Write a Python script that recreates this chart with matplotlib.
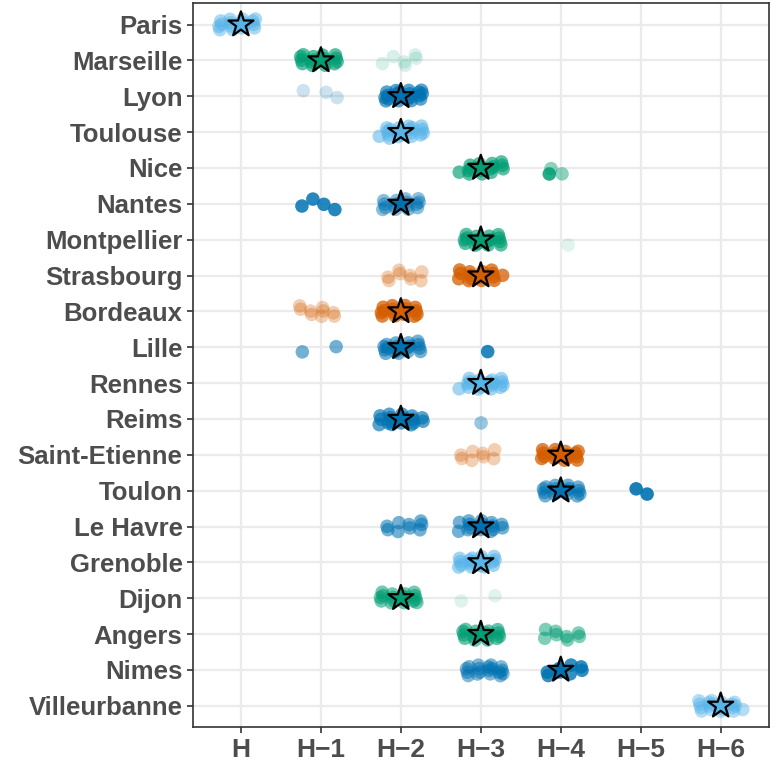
import numpy as np
import matplotlib
matplotlib.use("Agg")
import matplotlib.pyplot as plt

# categories
cities = ["Paris", "Marseille", "Lyon", "Toulouse", "Nice", "Nantes", "Montpellier",
          "Strasbourg", "Bordeaux", "Lille", "Rennes", "Reims", "Saint-Etienne",
          "Toulon", "Le Havre", "Grenoble", "Dijon", "Angers", "Nimes", "Villeurbanne"]
levels = ["H", "H\u22121", "H\u22122", "H\u22123", "H\u22124", "H\u22125", "H\u22126"]

LB, GR, DB, OR = "#56B4E9", "#009E73", "#0072B2", "#D55E00"
city_color = [LB, GR, DB, LB, GR, DB, GR, OR, OR, DB, LB, DB, OR, DB, DB, LB, GR, GR, DB, LB]

# most frequent level per city (star)
mode_level = [0, 1, 2, 2, 3, 2, 3, 3, 2, 2, 3, 2, 4, 4, 3, 3, 2, 3, 4, 6]

# point groups: city index, level index, number of points, opacity
grp_city  = [0, 1, 1, 2, 2, 3, 4, 4, 4, 5, 5, 6, 6, 7, 7, 8, 8, 9, 9, 9, 10, 11, 11,
             12, 12, 13, 13, 14, 14, 15, 16, 16, 17, 17, 18, 18, 19]
grp_level = [0, 1, 2, 1, 2, 2, 3, 4, 4, 1, 2, 3, 4, 2, 3, 1, 2, 1, 2, 3, 3, 2, 3,
             3, 4, 4, 5, 2, 3, 3, 2, 3, 3, 4, 3, 4, 6]
grp_n     = [16, 16, 6, 3, 20, 20, 16, 1, 2, 4, 16, 16, 1, 8, 16, 9, 16, 2, 18, 1, 18, 18, 1,
             8, 16, 16, 2, 9, 16, 18, 18, 2, 16, 8, 18, 8, 20]
grp_alpha = [0.5, 0.65, 0.15, 0.2, 0.65, 0.55, 0.65, 0.85, 0.45, 0.85, 0.45, 0.65, 0.12, 0.3,
             0.75, 0.3, 0.75, 0.55, 0.55, 0.85, 0.55, 0.65, 0.4, 0.3, 0.75, 0.55, 0.9, 0.55,
             0.55, 0.55, 0.55, 0.12, 0.6, 0.5, 0.5, 0.8, 0.45]

fig, ax = plt.subplots(figsize=(7.78, 7.68), dpi=100)
fig.subplots_adjust(left=0.248, right=0.988, top=0.996, bottom=0.053)

# deterministic jitter (R2 low-discrepancy sequence)
g = 1.32471795724474602596
a1, a2 = 1 / g, 1 / g ** 2
for k in range(len(grp_city)):
    c, lv, n, al = grp_city[k], grp_level[k], grp_n[k], grp_alpha[k]
    i = np.arange(n) + k * 7 + 1
    dx = ((0.5 + a1 * i) % 1 - 0.5) * 0.56
    dy = ((0.5 + a2 * i) % 1 - 0.5) * 0.34
    ax.scatter(lv + dx, c + dy, s=95, color=city_color[c], alpha=al,
               edgecolors="none", zorder=3)

ax.scatter(mode_level, range(len(cities)), marker="*", s=360,
           c=city_color, edgecolors="black", linewidths=1.6, zorder=5)

ax.set_xlim(-0.6, 6.6)
ax.set_ylim(len(cities) - 0.4, -0.6)
ax.set_xticks(range(len(levels)))
ax.set_xticklabels(levels)
ax.set_yticks(range(len(cities)))
ax.set_yticklabels(cities)

ax.grid(True, color="#EBEBEB", linewidth=1.6, zorder=0)
ax.set_axisbelow(True)
for sp in ax.spines.values():
    sp.set_color("#333333")
    sp.set_linewidth(1.2)
ax.tick_params(axis="both", colors="#333333", length=4, width=1.2)
for lab in ax.get_yticklabels():
    lab.set_fontfamily("Liberation Sans")
    lab.set_fontweight("bold")
    lab.set_fontsize(18.5)
    lab.set_color("#4D4D4D")
for lab in ax.get_xticklabels():
    lab.set_fontfamily("Liberation Sans")
    lab.set_fontweight("bold")
    lab.set_fontsize(19)
    lab.set_color("#4D4D4D")

fig.savefig("out.png", dpi=100, facecolor="white")
